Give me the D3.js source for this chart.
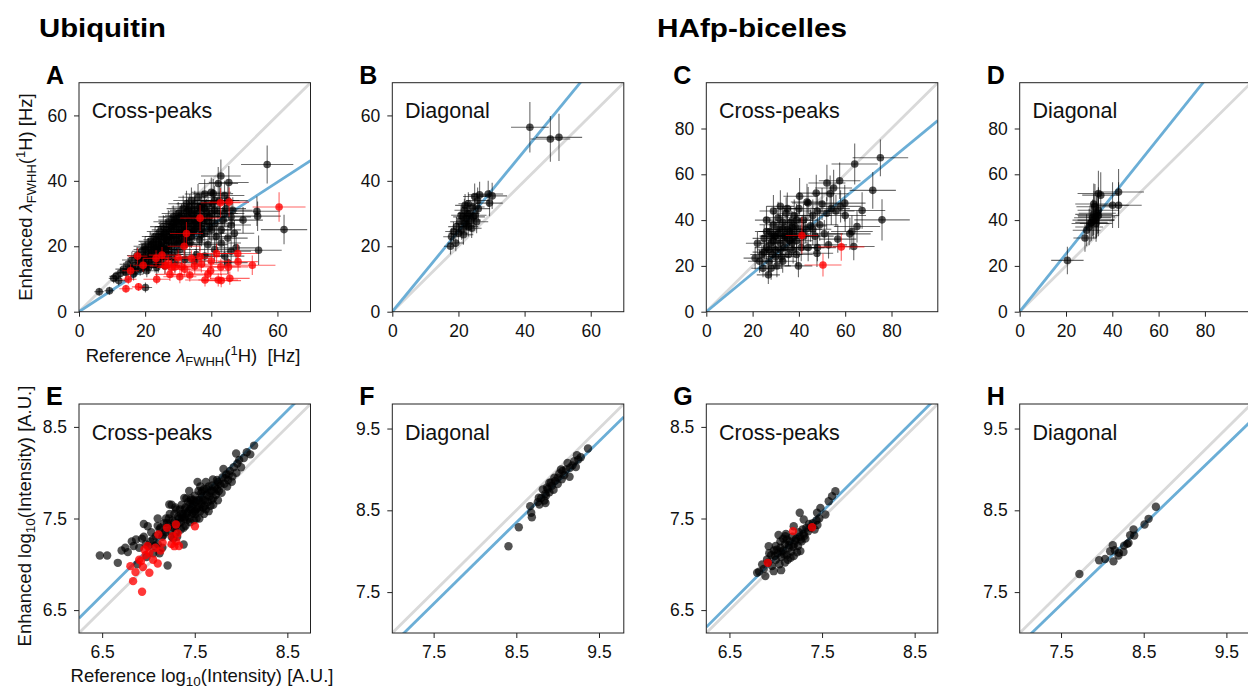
<!DOCTYPE html>
<html><head><meta charset="utf-8">
<script src="https://cdn.jsdelivr.net/npm/d3@7"></script>
<style>body{margin:0;background:#fff;overflow:hidden} text{font-family:"Liberation Sans",Arial,sans-serif}</style>
</head><body><svg id="c" width="1248" height="689"></svg>
<script>
// ---------- DATA ----------
// Linewidth panels: [reference, enhanced, xerr, yerr]
const aBlack = [[6.1,6.1,1.5,1.2],[9.2,6.4,1.5,1.2],[20.1,7.4,2,1.5],[10.5,10.2,1.5,1.5],[11.2,10.8,2,1.5],[12.0,9.5,2,1.5],[12.5,11.8,2,1.8],[13.5,13.0,2.5,2],[14.2,12.0,2.5,2],[14.8,14.5,2.5,2],[15.5,13.2,3,2],[16.0,15.8,3,2.5],[16.5,11.5,3,2],[17.0,14.0,3,2.5],[17.5,17.2,3,2.5],[18.0,15.5,3,2.5],[18.5,13.0,3,2],[19.0,18.5,3,2.5],[19.5,16.5,3.5,2.5],[20.0,20.0,3.5,3],[20.5,14.5,3.5,2.5],[21.0,18.0,3.5,3],[21.5,21.5,3.5,3],[22.0,16.0,4,3],[22.5,19.5,4,3],[23.0,23.0,4,3],[23.5,13.5,4,2.5],[24.0,21.0,4,3],[24.5,24.5,4,3],[25.0,18.0,4,3],[25.5,26.0,4,3.5],[26.0,22.5,4.5,3],[26.5,20.0,4.5,3],[27.0,27.5,4.5,3.5],[27.5,24.5,4.5,3],[28.0,16.5,4.5,3],[28.5,29.0,4.5,3.5],[29.0,26.0,5,3.5],[29.5,22.0,5,3],[30.0,30.0,5,3.5],[30.5,19.0,5,3],[31.0,27.5,5,3.5],[31.5,31.5,5,4],[32.0,24.5,5,3.5],[32.5,33.0,5.5,4],[33.0,29.0,5.5,3.5],[33.5,21.0,5.5,3.5],[34.0,34.0,5.5,4],[34.5,26.5,5.5,3.5],[35.0,31.0,5.5,4],[35.5,17.5,5.5,3],[36.0,35.0,6,4],[36.5,28.0,6,4],[37.0,23.5,6,3.5],[37.5,33.0,6,4],[38.0,36.0,6,4.5],[38.5,30.5,6,4],[39.0,20.5,6,3.5],[39.5,26.0,6,4],[40.0,36.5,6,4.5],[40.6,36.1,6,4.5],[41.0,31.0,6,4],[41.5,23.0,6,3.5],[42.1,39.2,6,5],[42.9,41.5,6,5],[43.5,28.0,6,4],[44.0,35.5,6,4.5],[44.5,31.5,6,4],[45.3,39.5,6,5],[45.0,22.5,6,4],[46.0,26.5,6,4],[46.5,31.0,6,4],[47.0,24.0,6,4],[47.5,19.5,6,4],[49.6,28.0,6,4],[53.8,30.7,7,4.5],[54.0,29.2,7,4.5],[54.3,18.8,7,4.5],[56.9,45.0,7.9,5.8],[62.0,25.1,7,4.5],
[19,15,3,2.5],[20,17,3.5,2.5],[21,19.5,3.5,3],[21,15.5,3.5,2.5],[22,18,4,3],[22.5,21,4,3],[23,17,4,3],[23.5,19.5,4,3],[24,16,4,3],[24,23,4,3],[24.5,18.5,4,3],[25,21,4,3],[25.5,16,4,3],[25.5,23.5,4,3],[26,19,4.5,3],[26.5,25,4.5,3],[27,21.5,4.5,3],[27,17.5,4.5,3],[27.5,23,4.5,3],[28,26,4.5,3.5],[28,20,4.5,3],[28.5,23.5,4.5,3],[29,18,5,3],[29,28,5,3.5],[29.5,25,5,3.5],[30,21,5,3],[30,27,5,3.5],[30.5,24,5,3.5],[31,22.5,5,3],[31,29.5,5,3.5],[31.5,26,5,3.5],[32,28,5,3.5],[32,20.5,5,3],[32.5,30.5,5.5,4],[33,25.5,5.5,3.5],[33.5,27.5,5.5,3.5],[33.5,32,5.5,4],[34,23,5.5,3.5],[34.5,29.5,5.5,4],[35,25,5.5,3.5],[35,33,5.5,4],[35.5,27,5.5,4],[36,30,6,4],[36.5,22,6,3.5],[37,32,6,4],[37.5,27,6,4],[38,29,6,4],[38,24,6,4],[39,33,6,4],[39.5,29,6,4],[40,25,6,4],[40.5,33,6,4.5],[41,27,6,4],[42,30,6,4],[42.5,34,6,4.5],[43,25,6,4],[44,30,6,4],[45,34,6,4.5],[46,29,6,4],[20.5,12.5,3.5,2],[23,14.5,4,2.5],[26,14,4.5,2.5],[29,15,5,3],[32,16,5,3],[35,15.5,5.5,3],[38,17,6,3],[41,19,6,3.5],[43,21,6,3.5],[44,17,6,3.5],[45,15,6,3.5],[46,18.5,6,3.5],
[20,19,3.5,2.5],[21.5,17,3.5,2.5],[22,20.5,4,3],[23,19,4,3],[23.5,22,4,3],[24.5,20,4,3],[25,23,4,3],[25.5,19.5,4,3],[26,24,4.5,3],[26.5,22,4.5,3],[27,19,4.5,3],[27.5,26,4.5,3.5],[28,22.5,4.5,3],[28.5,27,4.5,3.5],[29,21,5,3],[29.5,27.5,5,3.5],[30,23.5,5,3],[30.5,29,5,3.5],[31,25,5,3.5],[31.5,21,5,3],[32,26.5,5,3.5],[32.5,22.5,5,3],[33,31,5.5,4],[33.5,24,5.5,3.5],[34,30,5.5,4],[34.5,24.5,5.5,3.5],[35,28,5.5,4],[36,26,6,4],[36.5,32,6,4],[37,25.5,6,4],[38,31.5,6,4],[39,27.5,6,4],[40,30,6,4],[41,34,6,4.5],[18,16.5,3,2.5],[19.5,14,3,2.5],[17,12.5,3,2],[16,13,3,2],[21,13.5,3.5,2],[24,14.5,4,2.5]];
const aRed = [[60.5,32.0,8,4.5],[42.8,33.3,6,4.5],[45.4,33.5,6,4.5],[36.6,28.6,6,4],[32.5,23.9,5,3.5],[31.8,20.0,5,3],[17.7,17.0,3,2.5],[19.4,14.2,3,2],[15.6,12.5,2.5,2],[14.9,9.9,2.5,1.5],[14.2,7.0,2,1.2],[18.0,7.6,2,1.2],[23.5,9.9,4,1.5],[23.3,16.3,4,2.5],[25.1,17.3,4,2.5],[27.0,14.8,4.5,2.5],[27.5,11.4,4.5,2],[29.0,13.7,5,2.5],[31.0,13.7,5,2.5],[30.5,10.7,5,2],[33.5,11.2,5.5,2],[34.0,16.3,5.5,2.5],[36.6,16.8,6,3],[38.1,9.7,6,2],[39.8,12.5,6,2.5],[41.6,17.8,6,3],[42.1,9.7,6,2],[42.9,13.7,6,2.5],[45.2,13.7,6,2.5],[45.6,10.2,6,2],[48.0,17.8,6,3],[48.1,15.3,6,3],[52.4,14.2,7,3],[35,14,5.5,2.5],[37,14.5,6,2.5],[40,15.5,6,2.5],[28,13.5,4.5,2.5],[32,13,5,2.5],[30,16.5,5,2.5],[26,14,4.5,2.5],[39,11.5,6,2],[43,9.5,6,2]];
const bBlack = [[41.6,56.4,5.7,7.7],[47.8,52.8,6,7],[50.4,53.3,7,7.2],[17.9,22.9,2.5,2.5],[17.6,20.0,2,2.5],[19.2,21.0,2.5,2.5],[18.5,24.5,2.5,3],[19.4,26.0,2.5,3],[20.5,27.5,3,3],[21.0,25.0,3,3],[21.4,29.0,3,3.5],[21.8,31.0,3,3.5],[22.0,27.0,3,3],[22.4,28.5,3,3.5],[22.8,30.0,3,3.5],[23.0,26.0,3,3],[23.4,30.0,3,3.5],[23.8,28.0,3,3.5],[24.0,25.5,3,3],[24.4,32.0,3.5,3.5],[24.9,35.2,3.5,4],[25.0,29.5,3.5,3.5],[25.5,27.5,3.5,3.5],[26.4,35.7,3.5,4],[26.0,31.5,3.5,3.5],[29.0,36.0,4.5,4],[30.2,35.4,4.5,4],[29.4,33.2,4,4],[22.0,32.5,3,3.5],[20.8,29.5,3,3],[21.5,23.5,3,3],[23.0,33.0,3,3.5],[24.5,29.0,3.5,3.5],[22.5,26.5,3,3],[20.0,24.0,3,3],[25.8,34.0,3.5,4]];
const bRed = [];
const cBlack = [[75.2,67.2,12,8],[64.1,64.5,10,9],[57.6,57.2,9,8],[71.9,53.0,10,8],[75.9,40.1,12,9],[67.3,44.2,10,8],[65.1,37.2,10,7],[62.9,35.0,9,7],[59.8,47.4,9,8],[52.1,56.2,8,8],[55,54,8,8],[53.5,51.5,8,8],[43.5,47.9,7,8],[40.3,50.4,7,8],[47.5,51.8,8,8],[56.8,31.7,8,6],[63.7,28.5,9,6],[52.8,29.2,8,6],[39.8,20.0,6,5],[47.8,25.5,7,6],[26.8,16.1,5,4],[22.1,29.9,5,5],[21.1,23.4,5,5],
[24,25,5,5],[25,32,5,6],[26,28,5,5],[27,22,5,5],[27.5,35,5,6],[28,30,5,5],[28.5,25,5,5],[29,38,6,6],[29.5,33,6,6],[30,27,6,5],[30.5,20,6,5],[31,41,6,7],[31.5,36,6,6],[32,30,6,6],[32.5,24,6,5],[33,39,6,7],[33.5,33,6,6],[34,28,6,6],[34.5,43,6,7],[35,36,6,6],[35.5,25,6,5],[36,31,6,6],[36.5,39,7,7],[37,34,7,6],[37.5,27,7,6],[38,42,7,7],[38.5,37,7,6],[39,31,7,6],[40,45,7,7],[40.5,35,7,6],[41,28,7,6],[42,40,7,7],[43,36,7,6],[44,47.5,7,7],[45,37.5,7,7],[46,42,8,7],[47,33,8,6],[48,44,8,7],[49,38,8,7],[50,47,8,7],[51,34,8,6],[52,43,8,7],[54,45,8,7],[56,44,8,7],[58,46,9,7],[60,42,9,7],[62,34,9,7],[23,22,5,5],[26,35,5,6],[28,19,5,5],[30,33,6,6],[33,22,6,5],[35,45,6,7],[37,30,7,6],[39,25,7,5],[42,33,7,6],[44,28,7,6],[46,36,8,7],[48,28,8,6],[24.5,19,5,4],[26,40,5,6],[29,44,6,7],[32,46,6,7],
[27,27,5,5],[29,31,6,6],[31,34,6,6],[33,36,6,7],[35,32,6,6],[37,37,7,7],[39,40,7,7],[30,24,6,5],[32,27,6,6],[34,33,6,6],[36,35,6,6],[38,33,7,6],[28,33,5,6],[25,26,5,5]];
const cRed = [[41.3,33.3,7,8],[58.3,28.3,10,6],[50.4,20.4,8,5]];
const dBlack = [[20.6,22.4,7,6],[28.2,32.2,5,6],[28.9,35.6,6,7],[30.4,38.5,8,8],[31.8,40.0,9,8],[33.2,41.4,8,9],[34.0,44.3,9,10],[32.5,45.8,8,10],[34.0,51.6,9,10],[35.0,50.9,8,10],[40.1,46.5,7,10],[42.7,46.5,10,10],[42.7,52.3,11,10],[32,42.5,8,9],[33,40,8,8],[31,39,7,8],[33.5,43,8,9],[32,47,8,9],[34,42,9,9],[30,37,6,8],[33,38.5,7,8],[31.5,41,8,8]];
const dRed = [];
// Intensity panels: [reference log10, enhanced log10]
const eBlack = [[6.475,7.096],[6.554,7.096],[6.669,7.016],[6.777,7.133],[6.71,7.15],[6.82,7.25],[6.866,7.271],[6.9,7.18],[6.95,7.3],[6.992,7.416],[7.0,7.2],[7.03,7.35],[7.05,7.27],[7.08,7.307],[7.1,7.42],[7.12,7.38],[7.15,7.3],[7.17,7.45],[7.2,7.4],[7.207,6.987],[7.225,7.653],[7.22,7.5],[7.24,7.36],[7.26,7.48],[7.28,7.55],[7.3,7.42],[7.32,7.52],[7.34,7.6],[7.35,7.46],[7.37,7.55],[7.387,7.725],[7.38,7.216],[7.39,7.5],[7.4,7.62],[7.42,7.56],[7.43,7.68],[7.44,7.5],[7.45,7.6],[7.46,7.72],[7.47,7.55],[7.48,7.65],[7.5,7.58],[7.5,7.75],[7.51,7.68],[7.52,7.5],[7.53,7.62],[7.54,7.8],[7.55,7.7],[7.56,7.58],[7.57,7.66],[7.58,7.74],[7.59,7.62],[7.6,7.82],[7.61,7.7],[7.62,7.6],[7.63,7.76],[7.64,7.68],[7.65,7.85],[7.66,7.74],[7.67,7.64],[7.68,7.8],[7.696,7.925],[7.7,7.72],[7.72,7.84],[7.73,7.76],[7.75,7.9],[7.76,7.8],[7.78,7.86],[7.8,7.95],[7.81,8.04],[7.82,7.88],[7.84,7.98],[7.86,7.92],[7.88,8.02],[7.907,7.96],[7.92,8.06],[7.947,8.209],[7.96,8.1],[7.98,8.14],[8.0,8.06],[8.03,8.16],[8.062,8.224],[8.1,8.2],[8.141,8.296],[7.25,7.3],[7.3,7.35],[7.35,7.38],[7.4,7.42],[7.45,7.46],[7.55,7.5],[7.65,7.58],[7.7,7.65],[7.75,7.7],[7.15,7.18],[7.1,7.22],[7.05,7.12],[6.98,7.08],[6.88,7.0],[7.6,7.55],[7.53,7.9],[7.44,7.8],[7.25,7.65],[7.1,7.5],[6.95,7.44],[7.27,7.28],[7.33,7.45],[7.36,7.65],[7.41,7.72],[7.49,7.48],[7.56,7.85],[7.62,7.9],[7.68,7.7],[7.74,7.82],[7.79,7.78],[7.85,7.85],[7.9,7.9],[7.95,8.0],[7.18,7.35],[7.22,7.42],[7.29,7.62],[7.31,7.3],[7.38,7.4],[7.46,7.7],[7.52,7.6],[7.58,7.8],[7.12,7.12],[7.07,7.2],
[7.2,7.45],[7.23,7.55],[7.27,7.4],[7.3,7.6],[7.33,7.5],[7.36,7.52],[7.39,7.6],[7.41,7.48],[7.43,7.58],[7.45,7.66],[7.47,7.62],[7.49,7.7],[7.51,7.55],[7.53,7.7],[7.55,7.62],[7.57,7.78],[7.59,7.7],[7.61,7.64],[7.63,7.82],[7.66,7.78],[7.69,7.86],[7.71,7.8],[7.74,7.92],[7.77,7.88],[7.83,7.94],[7.87,7.98],[7.13,7.4],[7.16,7.32],[7.19,7.5],[7.02,7.25],[6.97,7.22],[6.93,7.28],[6.84,7.2],[6.75,7.18],[7.4,7.52],[7.48,7.56],[7.35,7.55],[7.28,7.46]];
const eRed = [[7.502,7.416],[6.931,6.7],[6.834,6.816],[6.805,6.98],[6.86,6.915],[6.92,7.035],[6.956,7.162],[7.01,7.125],[7.075,7.18],[7.1,7.009],[7.01,6.907],[7.2,7.398],[7.297,7.435],[7.315,7.336],[7.26,7.307],[7.28,7.198],[7.153,7.235],[7.107,7.325],[6.97,7.1],[6.9,7.05],[7.05,7.05],[6.94,6.97],[7.25,7.22],[7.3,7.25],[7.13,7.15],[6.99,7.2],[7.33,7.2]];
const fBlack = [[8.405,8.06],[8.53,8.293],[8.668,8.551],[8.68,8.47],[8.688,8.416],[8.78,8.57],[8.772,8.653],[8.853,8.59],[8.82,8.756],[8.9,8.837],[8.8,8.65],[8.85,8.7],[8.87,8.78],[8.9,8.72],[8.93,8.8],[8.95,8.75],[8.97,8.86],[9.0,8.82],[9.0,8.9],[9.02,8.95],[9.05,8.88],[9.06,8.98],[9.08,8.93],[9.1,9.0],[9.12,9.08],[9.144,8.911],[9.15,9.02],[9.18,9.05],[9.2,9.1],[9.22,9.03],[9.233,9.173],[9.25,9.12],[9.28,9.15],[9.367,9.255],[8.84,8.62],[8.88,8.76],[8.92,8.84],[8.96,8.9],[9.04,9.0],[8.76,8.6],[8.86,8.68]];
const fRed = [];
const gBlack = [[7.644,7.798],[7.608,7.744],[7.572,7.689],[7.482,7.616],[7.536,7.544],[7.446,7.562],[7.259,7.562],[7.302,7.489],[7.194,7.416],[7.104,7.307],[6.924,7.198],[6.906,7.053],[6.853,6.998],[6.799,6.907],[6.888,6.871],[6.978,6.925],[7.058,6.936],[7.194,7.089],[7.266,7.144],[6.95,7.1],[6.98,7.15],[7.0,7.05],[7.02,7.12],[7.05,7.18],[7.06,7.08],[7.08,7.15],[7.1,7.22],[7.12,7.1],[7.14,7.18],[7.15,7.25],[7.17,7.14],[7.2,7.22],[7.22,7.28],[7.24,7.2],[7.26,7.3],[7.28,7.25],[7.3,7.33],[7.32,7.28],[7.35,7.36],[7.38,7.4],[7.4,7.45],[7.42,7.38],[7.44,7.48],[7.47,7.5],[6.92,7.02],[6.96,6.98],[7.04,7.0],[7.1,7.02],[7.13,7.05],[7.0,7.2],[7.05,7.25],[7.08,7.28],[7.25,7.35],[7.18,7.3],[7.33,7.4],[6.87,6.95],[6.82,6.92],[7.23,7.13],[7.16,7.07],[7.11,7.33],[7.29,7.38],[7.36,7.44],[6.93,7.12],[7.03,7.32],[7.45,7.43],[7.06,7.14],[7.09,7.11],[7.14,7.21],[7.19,7.19],[7.21,7.26],[7.27,7.27],[7.31,7.31],[6.99,7.09],[7.01,7.16],[7.12,7.27]];
const gRed = [[6.914,7.016],[7.187,7.362],[7.392,7.405]];
const hBlack = [[7.722,7.721],[7.961,7.889],[8.033,7.905],[8.094,7.999],[8.126,8.073],[8.134,7.876],[8.195,7.946],[8.15,8.011],[8.255,7.991],[8.263,8.068],[8.316,8.101],[8.336,8.195],[8.377,8.265],[8.385,8.191],[8.51,8.326],[8.559,8.396],[8.647,8.543],[8.2,7.98],[8.3,8.09]];
const hRed = [];

const panelLetters = ["A","B","C","D","E","F","G","H"];
const panelNotes = ["Cross-peaks","Diagonal","Cross-peaks","Diagonal","Cross-peaks","Diagonal","Cross-peaks","Diagonal"];
const domains = [[0,70],[0,70],[0,100],[0,100],[6.25,8.75],[7.0,9.8],[6.25,8.75],[7.0,9.8]];
const tickLists = [[0,20,40,60],[0,20,40,60],[0,20,40,60,80],[0,20,40,60,80],[6.5,7.5,8.5],[7.5,8.5,9.5],[6.5,7.5,8.5],[7.5,8.5,9.5]];
// fitted line: [slope, intercept]
const fits = [[0.66,0],[1.232,0],[0.835,0],[1.263,0],[1.008,0.11],[0.994,-0.099],[1.007,0.021],[0.977,0.019]];
const blackSets = [aBlack,bBlack,cBlack,dBlack,eBlack,fBlack,gBlack,hBlack];
const redSets = [aRed,bRed,cRed,dRed,eRed,fRed,gRed,hRed];
const groupTitles = ["Ubiquitin","HAfp-bicelles"];

// ---------- LAYOUT ----------
const colLeft = [79, 392.3, 706.3, 1019.7];
const rowTop = [82.7, 404];
const W = 231.5, H = 229;
const svg = d3.select("#c");

svg.append("text").attr("x",39).attr("y",36.7).attr("font-size",25).attr("font-weight","bold")
  .attr("textLength",127).attr("lengthAdjust","spacingAndGlyphs").text(groupTitles[0]);
svg.append("text").attr("x",657).attr("y",36.7).attr("font-size",25).attr("font-weight","bold")
  .attr("textLength",190).attr("lengthAdjust","spacingAndGlyphs").text(groupTitles[1]);

panelLetters.forEach((L,i)=>{
  const row = i<4?0:1, col = i%4;
  const left = colLeft[col], top = rowTop[row];
  const dom = domains[i];
  const x = d3.scaleLinear().domain(dom).range([0,W]);
  const y = d3.scaleLinear().domain(dom).range([H,0]);
  const g = svg.append("g").attr("transform",`translate(${left},${top})`);
  const cid = "clip"+i;
  g.append("clipPath").attr("id",cid).append("rect").attr("width",W).attr("height",H);
  const pg = g.append("g").attr("clip-path",`url(#${cid})`);
  pg.append("line").attr("x1",x(dom[0])).attr("y1",y(dom[0])).attr("x2",x(dom[1])).attr("y2",y(dom[1]))
    .attr("stroke","#d9d9d9").attr("stroke-width",2.8);
  const [m,b] = fits[i];
  pg.append("line").attr("x1",x(dom[0])).attr("y1",y(m*dom[0]+b)).attr("x2",x(dom[1])).attr("y2",y(m*dom[1]+b))
    .attr("stroke","#6baed6").attr("stroke-width",2.8);
  const isLw = row===0;
  const r = isLw?3.8:4.2;
  [[blackSets[i],"#000",0.68,0.58],[redSets[i],"#ff0000",0.78,0.6]].forEach(([data,col,fo,eo])=>{
    if(isLw){
      const eg = pg.append("g").attr("stroke",col).attr("stroke-opacity",eo).attr("stroke-width",1.1);
      eg.selectAll("line.h").data(data).join("line").attr("class","h")
        .attr("x1",d=>x(d[0]-d[2])).attr("x2",d=>x(d[0]+d[2])).attr("y1",d=>y(d[1])).attr("y2",d=>y(d[1]));
      eg.selectAll("line.v").data(data).join("line").attr("class","v")
        .attr("x1",d=>x(d[0])).attr("x2",d=>x(d[0])).attr("y1",d=>y(d[1]-d[3])).attr("y2",d=>y(d[1]+d[3]));
    }
    pg.append("g").selectAll("circle").data(data).join("circle")
      .attr("cx",d=>x(d[0])).attr("cy",d=>y(d[1])).attr("r",r)
      .attr("fill",col).attr("fill-opacity",fo);
  });
  g.append("rect").attr("width",W).attr("height",H).attr("fill","none").attr("stroke","#222").attr("stroke-width",1);
  const fmt = isLw ? d3.format("d") : d3.format(".1f");
  const xa = g.append("g").attr("transform",`translate(0,${H})`)
    .call(d3.axisBottom(x).tickValues(tickLists[i]).tickSize(5).tickPadding(8).tickFormat(fmt));
  const ya = g.append("g").call(d3.axisLeft(y).tickValues(tickLists[i]).tickSize(5).tickPadding(7).tickFormat(fmt));
  [xa,ya].forEach(a=>{
    a.select(".domain").remove();
    a.selectAll("line").attr("stroke","#222");
    a.selectAll("text").attr("font-size",17.5).attr("fill","#111").attr("font-family",'"Liberation Sans",Arial,sans-serif');
  });
  g.append("text").attr("x",-33).attr("y",1).attr("font-size",25).attr("font-weight","bold").text(L);
  g.append("text").attr("x",12.7).attr("y",35.5).attr("font-size",21.5).attr("fill","#111").text(panelNotes[i]);
});

// ---------- AXIS LABELS ----------
function lwLabel(sel, prefix, gap){
  sel.append("tspan").text(prefix);
  sel.append("tspan").attr("font-style","italic").text("λ");
  sel.append("tspan").attr("font-size",13).attr("dy",4).text("FWHH");
  sel.append("tspan").attr("dy",-4).text("(");
  sel.append("tspan").attr("font-size",13).attr("dy",-7).text("1");
  sel.append("tspan").attr("dy",7).text("H)"+gap+"[Hz]");
}
function intLabel(sel, prefix){
  sel.append("tspan").text(prefix+" log");
  sel.append("tspan").attr("font-size",13.5).attr("dy",4).text("10");
  sel.append("tspan").attr("dy",-4).text("(Intensity) [A.U.]");
}
const yl1 = svg.append("text").attr("transform","translate(31.5,197) rotate(-90)").attr("text-anchor","middle")
  .attr("font-size",18.5).attr("fill","#111");
lwLabel(yl1,"Enhanced "," ");
const xl1 = svg.append("text").attr("x",193).attr("y",362).attr("text-anchor","middle")
  .attr("font-size",18.5).attr("fill","#111");
lwLabel(xl1,"Reference ","\u00a0\u00a0");
const yl2 = svg.append("text").attr("transform","translate(30.5,516) rotate(-90)").attr("text-anchor","middle")
  .attr("font-size",18.5).attr("fill","#111");
intLabel(yl2,"Enhanced");
const xl2 = svg.append("text").attr("x",202).attr("y",682).attr("text-anchor","middle")
  .attr("font-size",18.5).attr("fill","#111");
intLabel(xl2,"Reference");
</script></body></html>
